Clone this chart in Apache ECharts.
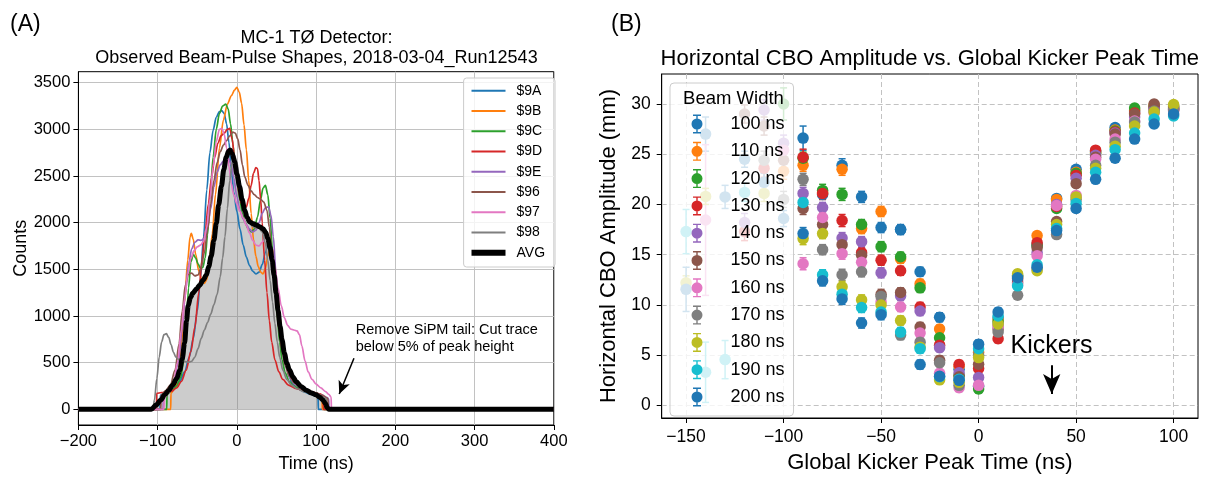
<!DOCTYPE html>
<html>
<head>
<meta charset="utf-8">
<script src="https://cdn.jsdelivr.net/npm/echarts@6/dist/echarts.min.js"></script>
<style>
  html, body { margin: 0; padding: 0; background: #fff; }
  #c { width: 1206px; height: 479px; }
</style>
</head>
<body>
<div id="c"></div>
<script>
// ---------- Panel A: beam-pulse shapes per T0 detector (time in ns, counts) ----------
const timeTicks = [-200, -100, 0, 100, 200, 300, 400];
const countTicks = [0, 500, 1000, 1500, 2000, 2500, 3000, 3500];
const detectorNames = ['$9A', '$9B', '$9C', '$9D', '$9E', '$96', '$97', '$98'];
const detectorColors = ['#1f77b4', '#ff7f0e', '#2ca02c', '#d62728', '#9467bd', '#8c564b', '#e377c2', '#7f7f7f'];

const trace9A = [[-200,0],[-97,0],[-96.7,150],[-90,185],[-80,230],[-72,300],[-66,400],[-60,560],[-55,760],[-50,1050],[-46,1400],[-42,1850],[-38,2350],[-34,2750],[-30,2990],[-26,3130],[-22,3190],[-19,3200],[-16,3170],[-13,3060],[-10,2860],[-7,2580],[-4,2330],[0,2120],[4,1930],[8,1760],[12,1630],[16,1540],[20,1480],[24,1450],[28,1470],[32,1550],[36,1680],[40,1790],[43,1780],[46,1620],[50,1300],[54,960],[58,680],[62,480],[66,350],[70,280],[76,225],[84,190],[92,165],[100,140],[102.5,130],[102.8,0],[400,0]];
const trace9B = [[-200,0],[-83.5,0],[-83.2,170],[-78,230],[-74,380],[-70,700],[-66,1150],[-62,1600],[-59,1850],[-57.5,1885],[-55,1820],[-52,1660],[-48,1480],[-44,1380],[-41,1350],[-38,1390],[-35,1560],[-31,1880],[-27,2300],[-22,2800],[-17,3100],[-12,3270],[-7,3360],[-3,3420],[0,3450],[3,3400],[6,3280],[9,3050],[12,2780],[15,2450],[18,2100],[21,1820],[24,1640],[27,1530],[30,1470],[33,1450],[36,1510],[39,1640],[42,1740],[45,1720],[48,1540],[51,1280],[54,1020],[57,780],[60,580],[64,420],[68,330],[74,270],[80,240],[88,210],[96,180],[104,140],[107.5,120],[107.8,0],[400,0]];
const trace9C = [[-200,0],[-88.5,0],[-88.2,160],[-82,200],[-76,250],[-71,340],[-67,520],[-64,850],[-61,1300],[-58,1580],[-55,1660],[-52,1620],[-49,1560],[-46,1510],[-43,1520],[-40,1620],[-37,1870],[-34,2250],[-30,2700],[-26,3000],[-22,3170],[-18,3250],[-14,3270],[-11,3220],[-8,3060],[-5,2840],[-2,2600],[1,2400],[4,2230],[7,2100],[10,2010],[14,1940],[18,1900],[22,1930],[26,2060],[30,2250],[33,2370],[36,2400],[39,2300],[42,2050],[45,1700],[48,1320],[51,980],[54,720],[57,530],[61,390],[66,300],[72,250],[80,215],[90,185],[100,160],[108,135],[110,120],[110.3,0],[400,0]];
const trace9D = [[-200,0],[-101.5,0],[-101.2,170],[-95,180],[-88,185],[-82,195],[-76,230],[-70,300],[-64,420],[-58,620],[-53,880],[-48,1250],[-44,1600],[-40,1900],[-36,2200],[-32,2480],[-28,2700],[-24,2850],[-20,2930],[-16,2960],[-12,3000],[-9,3010],[-6,2900],[-3,2700],[0,2480],[3,2300],[6,2200],[9,2150],[12,2170],[15,2260],[18,2400],[21,2530],[24,2590],[26,2580],[28,2450],[30,2250],[32,2000],[35,1600],[38,1250],[41,950],[44,720],[48,530],[53,400],[58,320],[65,260],[75,220],[85,200],[95,185],[105,165],[109,150],[109.3,0],[400,0]];
const trace9E = [[-200,0],[-93,0],[-92.7,140],[-87,190],[-80,280],[-74,500],[-69,850],[-65,1250],[-61,1550],[-57,1720],[-53,1790],[-49,1815],[-45,1810],[-41,1830],[-37,1950],[-33,2150],[-29,2380],[-25,2540],[-21,2620],[-17,2660],[-13,2680],[-10,2680],[-7,2620],[-4,2480],[0,2280],[4,2130],[8,2040],[12,1980],[16,1930],[20,1900],[24,1920],[28,2000],[32,2100],[36,2160],[40,2170],[43,2080],[46,1850],[49,1500],[52,1150],[55,850],[58,620],[62,450],[67,340],[73,270],[80,230],[90,195],[100,170],[108,150],[114,125],[116,110],[116.3,0],[400,0]];
const trace96 = [[-200,0],[-96,0],[-95.7,150],[-90,200],[-84,260],[-78,420],[-73,700],[-69,1050],[-65,1330],[-61,1450],[-57,1460],[-53,1430],[-49,1440],[-45,1520],[-41,1680],[-37,1920],[-33,2200],[-29,2450],[-25,2640],[-21,2760],[-17,2830],[-13,2880],[-9,2930],[-5,2970],[-2,2960],[1,2900],[4,2780],[7,2620],[10,2490],[14,2400],[18,2340],[22,2300],[26,2270],[30,2250],[34,2220],[38,2130],[41,1950],[44,1680],[47,1380],[50,1100],[53,850],[57,630],[61,470],[66,360],[72,285],[80,235],[90,200],[100,175],[108,150],[114,120],[115,110],[115.3,0],[400,0]];
const trace97 = [[-200,0],[-92,0],[-91.7,120],[-86,180],[-80,280],[-75,500],[-70,850],[-66,1180],[-62,1450],[-58,1620],[-54,1700],[-50,1740],[-46,1760],[-42,1800],[-38,1950],[-34,2250],[-30,2600],[-26,2870],[-22,3000],[-19,3010],[-16,2950],[-13,2800],[-10,2600],[-7,2420],[-4,2300],[0,2200],[4,2120],[8,2050],[12,1970],[16,1890],[20,1810],[24,1760],[28,1750],[32,1790],[36,1840],[40,1830],[44,1720],[48,1520],[52,1300],[56,1110],[60,980],[64,900],[68,860],[72,850],[76,840],[79,800],[82,680],[86,520],[90,400],[95,320],[100,270],[106,230],[112,190],[116,160],[119,130],[119.3,0],[400,0]];
const trace98 = [[-200,0],[-106,0],[-104,100],[-101,330],[-98,560],[-95,720],[-92,800],[-89,810],[-86,770],[-83,690],[-80,610],[-77,560],[-73,530],[-69,515],[-65,510],[-61,505],[-57,515],[-53,560],[-49,650],[-45,760],[-41,850],[-37,930],[-33,1020],[-29,1120],[-25,1230],[-21,1420],[-18,1620],[-15,1850],[-12,2150],[-9,2450],[-6,2650],[-3,2720],[0,2650],[3,2480],[6,2320],[9,2190],[12,2090],[16,2010],[20,1960],[24,1940],[28,1940],[32,1900],[36,1780],[39,1600],[42,1380],[45,1150],[48,920],[51,720],[54,560],[58,420],[63,320],[69,260],[76,220],[85,190],[95,165],[105,140],[111,120],[113,110],[113.3,0],[400,0]];
const traceAvg = [[-200,0],[-108,0],[-102,45],[-96,100],[-91,155],[-86,205],[-81,260],[-76,330],[-72,420],[-69,540],[-66,710],[-63.5,950],[-61.5,1110],[-58.5,1200],[-55.5,1245],[-51,1290],[-47,1330],[-42.5,1385],[-38.5,1440],[-35.5,1530],[-32.5,1640],[-29,1810],[-26,1990],[-23,2190],[-19.5,2390],[-16.5,2570],[-13.5,2700],[-10.5,2765],[-8.5,2780],[-6,2745],[-3,2655],[0,2520],[3.5,2385],[6.5,2250],[10,2130],[13,2055],[16,2010],[20,1990],[24.5,1975],[29,1955],[33,1935],[36.5,1895],[39,1830],[42,1730],[44.5,1600],[47,1440],[49.5,1245],[52,1060],[54.5,890],[57,745],[60,600],[63,495],[66.5,420],[70.5,350],[75,295],[81,245],[87.5,205],[94,175],[100,155],[104.5,130],[108.5,100],[111.5,65],[114.5,15],[116,0],[400,0]];
const detectorTraces = [trace9A, trace9B, trace9C, trace9D, trace9E, trace96, trace97, trace98];

// tail-cut annotation: arrow from text to the cut point, text anchor (ns, counts)
const tailArrowFrom = [147.8, 547];
const tailArrowTo = [129.2, 164];
const tailTextAt = [150, 755];

// ---------- Panel B: horizontal CBO amplitude (mm) vs kicker peak time (ns) ----------
const peakTimeTicks = [-150, -100, -50, 0, 50, 100];
const ampTicks = [0, 5, 10, 15, 20, 25, 30];
const peakTimes = [-150,-140,-130,-120,-110,-100,-90,-80,-70,-60,-50,-40,-30,-20,-10,0,10,20,30,40,50,60,70,80,90,100];
const beamWidths = ['100 ns','110 ns','120 ns','130 ns','140 ns','150 ns','160 ns','170 ns','180 ns','190 ns','200 ns'];
const widthColors = ['#1f77b4','#ff7f0e','#2ca02c','#d62728','#9467bd','#8c564b','#e377c2','#7f7f7f','#bcbd22','#17becf','#1f77b4'];

const amp100 = [null,27.0,null,24.5,null,null,26.6,21.0,23.9,20.75,17.7,17.5,13.3,8.77,3.6,1.9,8.7,12.9,16.0,20.6,23.5,25.3,27.65,29.3,29.8,29.5];
const amp110 = [null,null,null,null,null,23.3,23.9,21.2,23.5,17.6,19.3,14.6,12.1,7.6,3.9,5.3,8.5,12.8,16.9,20.5,23.2,25.2,27.4,29.4,29.9,29.6];
const amp120 = [null,null,null,null,null,30.0,24.6,21.4,21.0,18.0,15.8,14.8,11.7,6.73,3.0,1.64,8.3,12.9,15.9,19.6,23.1,25.1,27.3,29.6,29.7,29.7];
const amp130 = [null,null,null,17.3,23.6,null,24.7,21.1,18.4,15.2,14.45,13.4,9.8,6.0,4.07,3.68,6.63,12.6,16.2,19.8,22.9,25.4,27.2,29.1,29.6,29.5];
const amp140 = [null,null,null,18.2,29.4,26.1,21.1,19.7,16.65,16.3,13.2,10.9,9.4,5.75,3.25,2.79,8.0,12.4,15.2,20.0,22.6,24.9,27.1,28.7,29.5,29.4];
const amp150 = [null,null,null,29.0,27.8,24.4,19.6,18.0,16.0,14.95,11.05,11.25,7.8,4.5,2.85,4.1,7.6,12.2,15.7,18.3,22.07,24.7,27.0,29.0,30.0,29.8];
const amp160 = [null,18.45,null,null,null,25.4,14.1,18.7,15.1,14.25,10.3,9.8,7.2,3.2,1.77,2.0,7.8,12.0,14.9,19.9,20.9,24.5,26.5,28.3,29.1,29.3];
const amp170 = [null,null,null,null,24.4,20.5,22.5,15.5,13.0,13.3,10.85,7.0,6.3,4.25,2.0,5.0,7.3,10.97,13.6,17.0,20.5,23.9,26.2,28.2,29.3,29.4];
const amp180 = [12.2,20.8,null,null,21.1,null,16.6,17.1,11.8,10.5,10.0,8.45,5.8,2.55,2.3,4.76,8.1,13.1,13.4,18.0,20.75,23.6,25.8,27.8,29.2,29.95];
const amp190 = [17.3,3.3,4.56,21.2,null,null,20.2,13.0,11.07,9.75,9.3,7.3,5.65,2.85,2.6,5.65,8.9,11.9,14.0,17.6,20.1,23.2,25.45,27.1,28.5,28.8];
const amp200 = [11.55,null,20.75,null,22.2,18.6,17.1,12.4,10.6,8.2,9.03,17.5,4.07,2.9,2.5,6.1,9.3,12.7,13.75,17.4,19.6,22.5,24.6,26.5,28.0,29.0];

const err100 = [null,1.7,null,0.8,null,null,1.2,0.5,0.65,0.55,0.5,0.5,0.45,0.45,0.4,0.4,0.4,0.4,0.35,0.35,0.35,0.35,0.35,0.35,0.35,0.35];
const err110 = [null,null,null,null,null,0.8,0.6,0.5,0.6,0.5,0.5,0.45,0.45,0.4,0.4,0.4,0.4,0.35,0.35,0.35,0.35,0.35,0.35,0.35,0.35,0.35];
const err120 = [null,null,null,null,null,1.6,0.6,0.6,0.6,0.5,0.5,0.45,0.45,0.4,0.4,0.4,0.4,0.35,0.35,0.35,0.35,0.35,0.35,0.35,0.35,0.35];
const err130 = [null,null,null,0.9,0.9,null,0.8,0.6,0.6,0.5,0.5,0.45,0.45,0.4,0.4,0.4,0.4,0.35,0.35,0.35,0.35,0.35,0.35,0.35,0.35,0.35];
const err140 = [null,null,null,0.9,1.0,0.8,0.6,0.5,0.55,0.5,0.5,0.45,0.45,0.4,0.4,0.4,0.4,0.35,0.35,0.35,0.35,0.35,0.35,0.35,0.35,0.35];
const err150 = [null,null,null,0.9,0.9,0.8,0.6,0.5,0.55,0.5,0.5,0.45,0.45,0.4,0.4,0.4,0.4,0.35,0.35,0.35,0.35,0.35,0.35,0.35,0.35,0.35];
const err160 = [null,7.5,null,null,null,0.8,0.6,0.5,0.55,0.5,0.5,0.45,0.45,0.4,0.4,0.4,0.4,0.35,0.35,0.35,0.35,0.35,0.35,0.35,0.35,0.35];
const err170 = [null,null,null,null,0.9,0.8,0.6,0.5,0.55,0.5,0.5,0.45,0.45,0.4,0.4,0.4,0.4,0.35,0.35,0.35,0.35,0.35,0.35,0.35,0.35,0.35];
const err180 = [0.7,0.8,null,null,0.8,null,0.6,0.5,0.55,0.5,0.5,0.45,0.45,0.4,0.4,0.4,0.4,0.35,0.35,0.35,0.35,0.35,0.35,0.35,0.35,0.35];
const err190 = [2.2,3.0,1.9,0.9,null,null,0.6,0.5,0.55,0.5,0.5,0.45,0.45,0.4,0.4,0.4,0.4,0.35,0.35,0.35,0.35,0.35,0.35,0.35,0.35,0.35];
const err200 = [2.2,null,1.15,null,0.9,0.8,0.6,0.5,0.55,0.5,0.5,0.45,0.45,0.4,0.4,0.4,0.4,0.35,0.35,0.35,0.35,0.35,0.35,0.35,0.35,0.35];

const amplitudes = [amp100, amp110, amp120, amp130, amp140, amp150, amp160, amp170, amp180, amp190, amp200];
const amplitudeErrors = [err100, err110, err120, err130, err140, err150, err160, err170, err180, err190, err200];

// kicker marker: arrow (ns, mm) and label anchor
const kickerArrowFrom = [37.5, 4.0];
const kickerArrowTo = [37.5, 1.15];
const kickerTextAt = [16.4, 5.9];

// ---------- drawing ----------
const FONT = '"Liberation Sans", Arial, Helvetica, sans-serif';
const minusFmt = v => (v < 0 ? '\u2212' + Math.abs(v) : String(v));
const ERRBAR_ICON = 'path://M0,9.5A5.5,5.5,0,1,1,11,9.5A5.5,5.5,0,1,1,0,9.5ZM4.8,0H6.2V19H4.8ZM1.5,0H9.5V1.4H1.5ZM1.5,17.6H9.5V19H1.5Z';

function valueAxis(opts) {
  return {
    type: 'value',
    gridIndex: opts.grid,
    min: opts.min,
    max: opts.max,
    position: opts.position,
    name: opts.name,
    nameLocation: 'middle',
    nameGap: opts.nameGap,
    nameRotate: opts.nameRotate,
    nameTextStyle: { fontFamily: FONT, fontSize: opts.nameSize, color: '#000' },
    axisLine: { show: true, onZero: false, lineStyle: { color: '#000', width: 1 } },
    axisTick: { show: true, length: 5, customValues: opts.ticks, lineStyle: { color: '#000', width: 1 } },
    axisLabel: {
      customValues: opts.ticks, formatter: minusFmt, margin: opts.margin,
      fontFamily: FONT, fontSize: opts.labelSize, color: '#000', hideOverlap: false
    },
    splitLine: { show: true, lineStyle: opts.gridStyle }
  };
}

function renderErrorBar(params, api) {
  const x = api.value(0), y = api.value(1), e = api.value(2);
  const top = api.coord([x, y + e]);
  const bot = api.coord([x, y - e]);
  const cap = 3.5;
  const style = { stroke: api.visual('color'), lineWidth: 1.5 };
  return {
    type: 'group',
    children: [
      { type: 'line', shape: { x1: top[0], y1: top[1], x2: bot[0], y2: bot[1] }, style: style },
      { type: 'line', shape: { x1: top[0] - cap, y1: top[1], x2: top[0] + cap, y2: top[1] }, style: style },
      { type: 'line', shape: { x1: bot[0] - cap, y1: bot[1], x2: bot[0] + cap, y2: bot[1] }, style: style }
    ]
  };
}

const series = [];

// shaded area under the average pulse
series.push({
  name: 'avg-fill', type: 'line', xAxisIndex: 0, yAxisIndex: 0, data: traceAvg,
  symbol: 'none', smooth: 0.3, smoothMonotone: 'x', silent: true, z: 1,
  lineStyle: { width: 0, opacity: 0 },
  areaStyle: { color: 'rgba(128,128,128,0.4)', opacity: 1 }
});

detectorTraces.forEach((trace, i) => {
  series.push({
    name: detectorNames[i], type: 'line', xAxisIndex: 0, yAxisIndex: 0, data: trace,
    symbol: 'none', smooth: 0.3, smoothMonotone: 'x', z: 2,
    color: detectorColors[i], lineStyle: { width: 1.7, color: detectorColors[i] }
  });
});

series.push({
  name: 'AVG', type: 'line', xAxisIndex: 0, yAxisIndex: 0, data: traceAvg,
  symbol: 'none', smooth: 0.3, smoothMonotone: 'x', z: 3,
  color: '#000', lineStyle: { width: 5, color: '#000' },
  markLine: {
    silent: true, animation: false, symbol: ['none', 'arrow'], symbolSize: [9, 13],
    label: { show: false },
    lineStyle: { color: '#000', width: 1.5, type: 'solid' },
    data: [[{ coord: tailArrowFrom }, { coord: tailArrowTo }]]
  }
});

amplitudes.forEach((vals, i) => {
  const errs = amplitudeErrors[i];
  const errData = [], ptData = [];
  peakTimes.forEach((t, j) => {
    if (vals[j] == null) return;
    ptData.push([t, vals[j]]);
    errData.push([t, vals[j], errs[j]]);
  });
  series.push({
    name: beamWidths[i] + ' err', type: 'custom', xAxisIndex: 1, yAxisIndex: 1,
    renderItem: renderErrorBar, data: errData, encode: { x: 0, y: 1 },
    itemStyle: { color: widthColors[i] }, z: 2, silent: true
  });
  const s = {
    name: beamWidths[i], type: 'scatter', xAxisIndex: 1, yAxisIndex: 1, data: ptData,
    symbol: 'circle', symbolSize: 11.5, z: 2,
    itemStyle: { color: widthColors[i], opacity: 1 }
  };
  if (i === amplitudes.length - 1) {
    s.markLine = {
      silent: true, animation: false, symbol: ['none', 'arrow'], symbolSize: [13, 20],
      label: { show: false },
      lineStyle: { color: '#000', width: 2, type: 'solid' },
      data: [[{ coord: kickerArrowFrom }, { coord: kickerArrowTo }]]
    };
  }
  series.push(s);
});

const chart = echarts.init(document.getElementById('c'), null, { renderer: 'canvas' });

const detectorLegend = detectorNames.map(n => ({ name: n, lineStyle: { width: 2 } }))
  .concat([{ name: 'AVG', lineStyle: { width: 6 } }]);

const option = {
  animation: false,
  backgroundColor: '#fff',
  grid: [
    { left: 78.4, top: 71.7, width: 475.4, height: 353.3, show: true, borderColor: '#000', borderWidth: 1, backgroundColor: 'transparent' },
    { left: 661.7, top: 74, width: 536.3, height: 347.7, show: true, borderColor: '#000', borderWidth: 1, backgroundColor: 'transparent' }
  ],
  xAxis: [
    valueAxis({ grid: 0, min: -200, max: 400, position: 'bottom', ticks: timeTicks, name: 'Time (ns)', nameGap: 29, nameSize: 18, labelSize: 16.5, margin: 8,
      gridStyle: { color: '#c2c2c2', width: 1, type: 'solid' } }),
    valueAxis({ grid: 1, min: -162.5, max: 112.5, position: 'bottom', ticks: peakTimeTicks, name: 'Global Kicker Peak Time (ns)', nameGap: 34, nameSize: 22, labelSize: 17.5, margin: 10,
      gridStyle: { color: '#c2c2c2', width: 1, type: [5, 3] } })
  ],
  yAxis: [
    valueAxis({ grid: 0, min: -168.3, max: 3617.9, position: 'left', ticks: countTicks, name: 'Counts', nameGap: 48, nameRotate: 90, nameSize: 18, labelSize: 16.5, margin: 8,
      gridStyle: { color: '#c2c2c2', width: 1, type: 'solid' } }),
    valueAxis({ grid: 1, min: -1.25, max: 32.98, position: 'left', ticks: ampTicks, name: 'Horizontal CBO Amplitude (mm)', nameGap: 42, nameRotate: 90, nameSize: 22, labelSize: 17.5, margin: 11,
      gridStyle: { color: '#c2c2c2', width: 1, type: [5, 3] } })
  ],
  legend: [
    {
      data: detectorLegend,
      orient: 'vertical', left: 463.6, top: 78,
      itemWidth: 34, itemHeight: 14, itemGap: 6.25,
      padding: [5.7, 10, 7.3, 4.9],
      backgroundColor: 'rgba(255,255,255,0.8)', borderColor: '#cccccc', borderWidth: 1, borderRadius: 3,
      selectedMode: false, z: 10,
      itemStyle: { opacity: 0 },
      textStyle: { fontFamily: FONT, fontSize: 14, color: '#000', padding: [0, 0, 0, 6] }
    },
    {
      data: beamWidths.map(n => ({ name: n, icon: ERRBAR_ICON })),
      orient: 'vertical', left: 670, top: 83,
      itemWidth: 11, itemHeight: 19, itemGap: 8.3,
      padding: [31.5, 9, 9.5, 21.5],
      backgroundColor: 'rgba(255,255,255,0.8)', borderColor: '#cccccc', borderWidth: 1, borderRadius: 4,
      selectedMode: false, z: 10,
      textStyle: { fontFamily: FONT, fontSize: 18, color: '#000', padding: [0, 0, 0, 23] }
    }
  ],
  series: series
};

chart.setOption(option);

// text annotations placed through the axes' own coordinate conversion
const tailPx = chart.convertToPixel({ gridIndex: 0 }, tailTextAt);
const kickPx = chart.convertToPixel({ gridIndex: 1 }, kickerTextAt);

function txt(x, y, text, size, align, extra) {
  return Object.assign({
    type: 'text', x: x, y: y, z: 20, silent: true,
    style: { text: text, fontFamily: FONT, fontSize: size, fill: '#000', align: align || 'center', verticalAlign: 'middle' }
  }, extra || {});
}

chart.setOption({
  graphic: [
    txt(10, 25, '(A)', 23, 'left'),
    txt(611, 25, '(B)', 23, 'left'),
    txt(316.5, 38, 'MC-1 T\u00d8 Detector:', 18),
    txt(316.5, 58, 'Observed Beam-Pulse Shapes, 2018-03-04_Run12543', 18),
    txt(929.8, 59, 'Horizontal CBO Amplitude vs. Global Kicker Peak Time', 22),
    txt(733.5, 99, 'Beam Width', 18.5),
    {
      type: 'text', x: tailPx[0], y: tailPx[1], z: 20, silent: true,
      style: { text: 'Remove SiPM tail: Cut trace\nbelow 5% of peak height', fontFamily: FONT, fontSize: 14.5, lineHeight: 17, fill: '#000', align: 'left', verticalAlign: 'middle' }
    },
    txt(kickPx[0], kickPx[1], 'Kickers', 25, 'left')
  ]
});
</script>
</body>
</html>
